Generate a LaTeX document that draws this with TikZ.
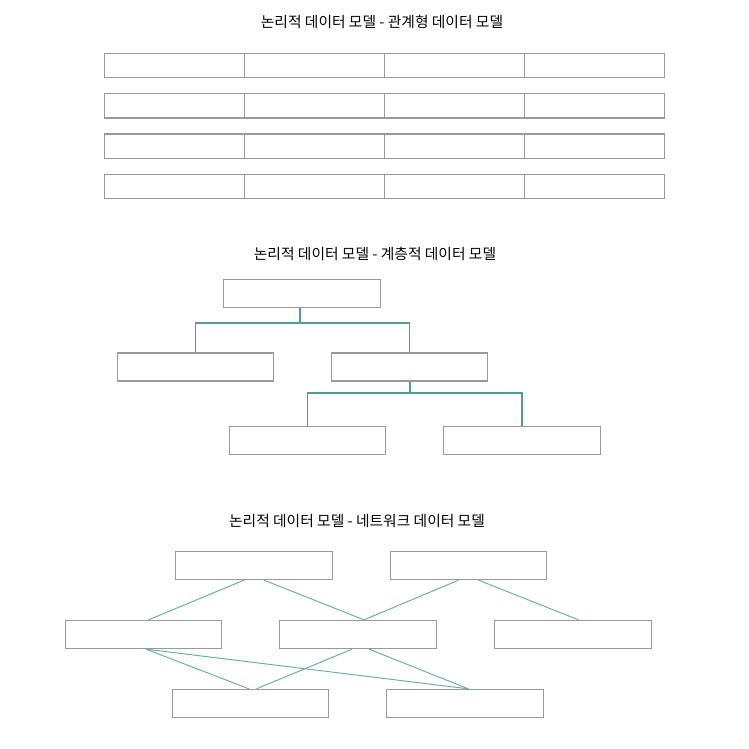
\documentclass[tikz,border=0pt]{standalone}
\usepackage{fontspec}
\usepackage{xcolor}
\usepackage{tikz}
\usetikzlibrary{matrix, positioning}
\newfontfamily\krfont{Noto Sans CJK KR}
\definecolor{boxGray}{HTML}{999999}
\definecolor{linkTeal}{HTML}{4E9E93}

\begin{document}
\begin{tikzpicture}[x=0.02cm, y=-0.02cm, font=\krfont\fontsize{8.4}{10}\selectfont,
  title/.style={draw=none, inner sep=0pt},
  cell/.style={draw=boxGray, line width=0.75pt, minimum width=2.8cm, minimum height=0.49cm, inner sep=0pt},
  relTable/.style={matrix of nodes, nodes in empty cells, nodes=cell, column sep=-0.75pt, row sep=0.29cm},
  box/.style={draw=boxGray, line width=0.75pt, minimum width=3.13cm, minimum height=0.56cm, inner sep=0pt},
  tree/.style={draw=linkTeal, line width=0.8pt},
  net/.style={draw=linkTeal!85, line width=0.55pt}
]
\useasboundingbox (0,0) rectangle (749,749);

%------------- Relational
	\node[title] (T_Rel) at (382, 22) {논리적 데이터 모델 - 관계형 데이터 모델};
	\matrix[relTable] (R) at (384.5, 126) {
		& & & \\
		& & & \\
		& & & \\
		& & & \\
	};

%------------- Hierarchical
	\node[title] (T_Hier) at (375, 254) {논리적 데이터 모델 - 계층적 데이터 모델};

	\node[box] (H_Root) at (302, 293.5) {};
	\node[box] (H_Left) at (195.5, 367) {};
	\node[box] (H_Right) at (409.5, 367) {};
	\node[box] (H_RightA) at (307.5, 440.5) {};
	\node[box] (H_RightB) at (522, 440.5) {};

	\coordinate (H_Split) at (300, 323);
	\coordinate (H_Split2) at (410, 393);

	\draw[tree] (H_Root.south -| H_Split) -- (H_Split);
	\draw[tree] (H_Left.north) |- (H_Split) -| (H_Right.north);
	\draw[tree] (H_Right.south -| H_Split2) -- (H_Split2);
	\draw[tree] (H_RightA.north) |- (H_Split2) -| (H_RightB.north);

%------------- Network
	\node[title] (T_Net) at (357, 521) {논리적 데이터 모델 - 네트워크 데이터 모델};

	\node[box] (N_TopA) at (254, 565.5) {};
	\node[box] (N_TopB) at (468.5, 565.5) {};
	\node[box] (N_MidA) at (143.5, 634.5) {};
	\node[box] (N_MidB) at (358, 634.5) {};
	\node[box] (N_MidC) at (573, 634.5) {};
	\node[box] (N_BotA) at (250.5, 703.5) {};
	\node[box] (N_BotB) at (465, 703.5) {};

	\draw[net] ([xshift=-0.2cm]N_TopA.south) -- ([xshift=0.1cm]N_MidA.north);
	\draw[net] ([xshift=0.2cm]N_TopA.south) -- ([xshift=0.12cm]N_MidB.north);
	\draw[net] ([xshift=-0.2cm]N_TopB.south) -- ([xshift=0.12cm]N_MidB.north);
	\draw[net] ([xshift=0.2cm]N_TopB.south) -- ([xshift=0.11cm]N_MidC.north);
	\draw[net] ([xshift=0.05cm]N_MidA.south) -- ([xshift=-0.03cm]N_BotA.north);
	\draw[net] ([xshift=0.05cm]N_MidA.south) -- ([xshift=0.07cm]N_BotB.north);
	\draw[net] ([xshift=-0.12cm]N_MidB.south) -- ([xshift=0.12cm]N_BotA.north);
	\draw[net] ([xshift=0.22cm]N_MidB.south) -- ([xshift=0.07cm]N_BotB.north);

\end{tikzpicture}
\end{document}
